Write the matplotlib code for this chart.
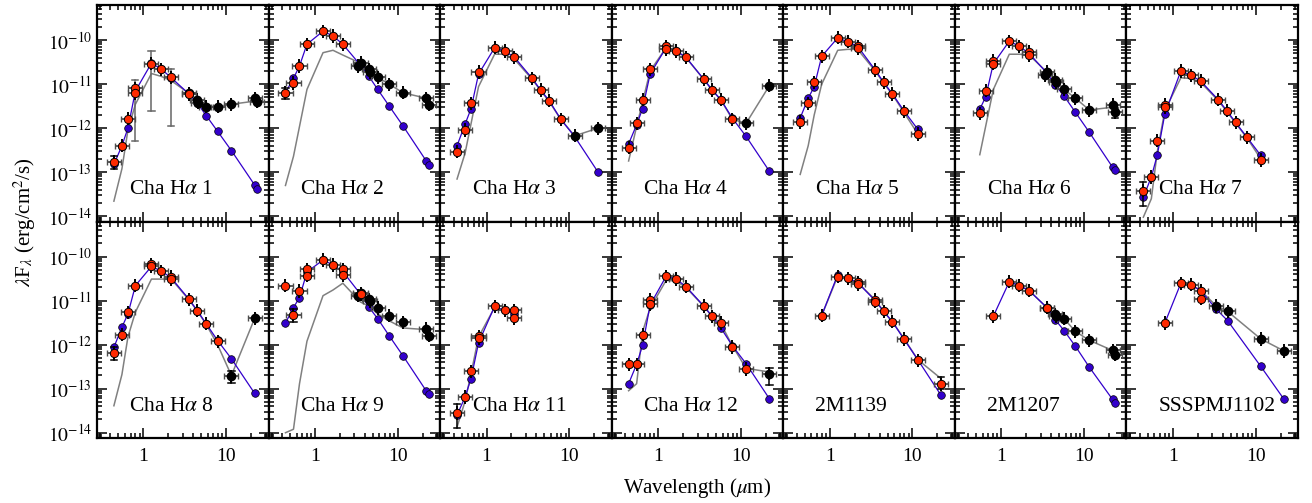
import numpy as np
import matplotlib.pyplot as plt
from matplotlib.ticker import FuncFormatter, NullFormatter, FixedLocator

plt.rcParams['font.family'] = ['Liberation Serif', 'DejaVu Serif']
plt.rcParams['mathtext.fontset'] = 'stix'

# filter wavelengths (micron)
B, V, R, I = 0.44, 0.55, 0.65, 0.80
J, H, K = 1.25, 1.65, 2.17
W1, I1, I2, W2, I3, I4 = 3.35, 3.55, 4.49, 4.60, 5.73, 7.87
W3, W4, M1 = 11.56, 22.1, 23.7

names = ['Cha H$\\alpha$ 1', 'Cha H$\\alpha$ 2', 'Cha H$\\alpha$ 3', 'Cha H$\\alpha$ 4',
         'Cha H$\\alpha$ 5', 'Cha H$\\alpha$ 6', 'Cha H$\\alpha$ 7', 'Cha H$\\alpha$ 8',
         'Cha H$\\alpha$ 9', 'Cha H$\\alpha$ 11', 'Cha H$\\alpha$ 12', '2M1139',
         '2M1207', 'SSSPMJ1102']

# photospheric model fluxes, lambda*F_lambda (erg/cm2/s)
model = [
    [(B, 1.5e-13), (V, 4.0e-13), (R, 1.0e-12), (I, 7.0e-12), (J, 3.0e-11), (H, 2.2e-11), (K, 1.4e-11),
     (I1, 6.0e-12), (I2, 3.7e-12), (I3, 1.94e-12), (I4, 8.5e-13), (W3, 3.1e-13), (W4, 5.1e-14), (M1, 4.2e-14)],
    [(B, 6.4e-12), (V, 1.36e-11), (R, 2.6e-11), (I, 8.1e-11), (J, 1.6e-10), (H, 1.25e-10), (K, 8.1e-11),
     (I1, 2.7e-11), (I2, 1.5e-11), (I3, 7.6e-12), (I4, 3.2e-12), (W3, 1.13e-12), (W4, 1.8e-13), (M1, 1.45e-13)],
    [(B, 4.0e-13), (V, 1.23e-12), (R, 2.8e-12), (I, 1.7e-11), (J, 6.7e-11), (H, 5.7e-11), (K, 4.1e-11),
     (I1, 1.36e-11), (I2, 7.4e-12), (I3, 4.2e-12), (I4, 1.6e-12), (W3, 6.5e-13), (W4, 1.02e-13)],
    [(B, 4.4e-13), (V, 1.2e-12), (R, 2.8e-12), (I, 1.7e-11), (J, 6.8e-11), (H, 5.7e-11), (K, 4.1e-11),
     (I1, 1.3e-11), (I2, 7.4e-12), (I3, 4.4e-12), (I4, 1.7e-12), (W3, 6.5e-13), (W4, 1.05e-13)],
    [(B, 1.7e-12), (V, 4.8e-12), (R, 8.8e-12), (I, 4.3e-11), (J, 1.13e-10), (H, 9.2e-11), (K, 7.3e-11),
     (I1, 2.1e-11), (I2, 1.1e-11), (I3, 6.0e-12), (I4, 2.5e-12), (W3, 9.5e-13)],
    [(V, 2.7e-12), (R, 5.2e-12), (I, 2.9e-11), (J, 9.5e-11), (H, 7.3e-11), (K, 5.0e-11),
     (I1, 1.8e-11), (I2, 9.6e-12), (I3, 5.4e-12), (I4, 2.3e-12), (W3, 8.1e-13), (W4, 1.3e-13), (M1, 1.1e-13)],
    [(B, 2.7e-14), (V, 7.8e-14), (R, 2.5e-13), (I, 2.1e-12), (J, 2.0e-11), (H, 1.6e-11), (K, 1.18e-11),
     (I1, 4.4e-12), (I2, 2.5e-12), (I3, 1.35e-12), (I4, 6.2e-13), (W3, 2.4e-13)],
    [(B, 8.7e-13), (V, 2.5e-12), (R, 5.0e-12), (I, 2.2e-11), (J, 6.0e-11), (H, 4.7e-11), (K, 3.3e-11),
     (I1, 1.08e-11), (I2, 5.9e-12), (I3, 3.0e-12), (I4, 1.25e-12), (W3, 4.8e-13), (W4, 7.8e-14)],
    [(B, 3.1e-12), (V, 7.0e-12), (R, 1.18e-11), (I, 4.5e-11), (J, 8.4e-11), (H, 6.5e-11), (K, 4.6e-11),
     (I1, 1.4e-11), (I2, 7.1e-12), (I3, 3.9e-12), (I4, 1.6e-12), (W3, 5.6e-13), (W4, 8.9e-14), (M1, 7.4e-14)],
    [(B, 2.5e-14), (V, 6.5e-14), (R, 1.7e-13), (I, 1.1e-12), (J, 7.4e-12), (H, 6.0e-12), (K, 5.0e-12)],
    [(B, 1.3e-13), (V, 3.6e-13), (R, 9.8e-13), (I, 8.0e-12), (J, 3.6e-11), (H, 3.1e-11), (K, 2.1e-11),
     (I1, 7.6e-12), (I2, 4.4e-12), (I3, 2.4e-12), (I4, 9.5e-13), (W3, 3.7e-13), (W4, 5.9e-14)],
    [(I, 4.6e-12), (J, 3.9e-11), (H, 3.2e-11), (K, 2.6e-11), (I1, 1.0e-11), (I2, 5.7e-12), (I3, 3.3e-12),
     (I4, 1.35e-12), (W3, 4.6e-13), (W4, 7.1e-14)],
    [(I, 4.4e-12), (J, 2.7e-11), (H, 2.2e-11), (K, 1.7e-11), (I1, 7.0e-12), (I2, 3.7e-12), (I3, 2.1e-12),
     (I4, 9.2e-13), (W3, 3.1e-13), (W4, 5.7e-14), (M1, 4.7e-14)],
    [(I, 3.1e-12), (J, 2.5e-11), (H, 2.3e-11), (K, 1.7e-11), (W1, 6.4e-12), (W2, 3.5e-12), (W3, 3.2e-13),
     (W4, 5.7e-14)],
]

# dereddened optical / near-IR photometry
dered = [
    [(B, 1.7e-13), (V, 4.0e-13), (R, 1.66e-12), (I, 8.1e-12), (I, 6.2e-12), (J, 2.95e-11), (H, 2.2e-11),
     (K, 1.44e-11), (I1, 6.0e-12)],
    [(B, 6.4e-12), (V, 1.07e-11), (R, 2.6e-11), (I, 8.1e-11), (J, 1.6e-10), (H, 1.25e-10), (K, 8.1e-11)],
    [(B, 2.9e-13), (V, 9.1e-13), (R, 3.7e-12), (I, 1.9e-11), (J, 6.7e-11), (H, 5.7e-11), (K, 4.1e-11),
     (I1, 1.36e-11), (I2, 7.4e-12), (I3, 4.2e-12), (I4, 1.6e-12)],
    [(B, 3.6e-13), (V, 1.3e-12), (R, 4.4e-12), (I, 2.2e-11), (J, 7.3e-11), (J, 6.2e-11), (H, 5.7e-11),
     (K, 4.1e-11), (I1, 1.3e-11), (I2, 7.4e-12), (I3, 4.4e-12), (I4, 1.6e-12)],
    [(B, 1.38e-12), (V, 3.7e-12), (R, 1.1e-11), (I, 4.3e-11), (J, 1.13e-10), (H, 9.2e-11), (K, 7.3e-11),
     (K, 6.6e-11), (I1, 2.1e-11), (I2, 1.1e-11), (I3, 6.0e-12), (I4, 2.4e-12), (W3, 7.4e-13)],
    [(V, 2.2e-12), (R, 7.1e-12), (I, 3.4e-11), (I, 2.9e-11), (J, 9.5e-11), (H, 7.3e-11), (K, 5.5e-11),
     (K, 4.6e-11)],
    [(B, 3.8e-14), (V, 7.8e-14), (R, 5.2e-13), (I, 3.4e-12), (I, 3.0e-12), (J, 2.0e-11), (H, 1.6e-11),
     (K, 1.18e-11), (I1, 4.4e-12), (I2, 2.5e-12), (I3, 1.35e-12), (I4, 6.2e-13), (W3, 1.9e-13)],
    [(B, 6.5e-13), (V, 1.7e-12), (R, 5.5e-12), (I, 2.2e-11), (J, 6.7e-11), (J, 6.0e-11), (H, 4.7e-11),
     (K, 3.5e-11), (K, 3.1e-11), (I1, 1.08e-11), (I2, 5.9e-12), (I3, 3.0e-12), (I4, 1.2e-12)],
    [(B, 2.2e-11), (V, 4.8e-12), (R, 1.67e-11), (I, 5.2e-11), (I, 3.7e-11), (J, 8.4e-11), (H, 6.5e-11),
     (K, 5.2e-11), (K, 3.8e-11), (I1, 1.4e-11)],
    [(B, 2.8e-14), (V, 6.5e-14), (R, 2.5e-13), (I, 1.55e-12), (I, 1.4e-12), (J, 7.4e-12), (H, 6.0e-12),
     (K, 6.0e-12), (K, 4.0e-12)],
    [(B, 3.6e-13), (V, 3.6e-13), (R, 1.7e-12), (I, 1.05e-11), (I, 8.3e-12), (J, 3.6e-11), (H, 3.1e-11),
     (K, 2.1e-11), (I1, 7.6e-12), (I2, 4.4e-12), (I3, 3.1e-12), (I4, 8.9e-13), (W3, 2.8e-13)],
    [(I, 4.6e-12), (J, 3.5e-11), (H, 3.2e-11), (K, 2.6e-11), (K, 2.4e-11), (I1, 1.05e-11), (I1, 9.5e-12),
     (I2, 5.7e-12), (I3, 3.3e-12), (I4, 1.35e-12), (W3, 4.4e-13), (W4, 1.26e-13)],
    [(I, 4.4e-12), (J, 2.7e-11), (H, 2.2e-11), (K, 1.7e-11), (I1, 7.0e-12)],
    [(I, 3.1e-12), (J, 2.5e-11), (H, 2.3e-11), (K, 1.7e-11), (K, 1.1e-11)],
]

# mid-IR photometry (IRAC / WISE / MIPS)
midir = [
    [(I1, 6.2e-12), (I2, 4.4e-12), (W2, 3.8e-12), (I3, 3.1e-12), (I4, 3.1e-12), (W3, 3.5e-12),
     (W4, 4.8e-12), (M1, 4.0e-12)],
    [(W1, 2.6e-11), (I1, 3.1e-11), (I2, 2.2e-11), (W2, 1.9e-11), (I3, 1.44e-11), (I4, 1.0e-11),
     (W3, 6.4e-12), (W4, 4.8e-12), (M1, 3.4e-12)],
    [(W3, 6.7e-13), (W4, 1.0e-12)],
    [(W3, 1.3e-12), (W4, 9.3e-12)],
    [],
    [(W1, 1.6e-11), (I1, 1.9e-11), (I2, 1.25e-11), (W2, 1.1e-11), (I3, 7.6e-12), (I4, 4.8e-12),
     (W3, 2.6e-12), (W4, 3.4e-12), (M1, 2.3e-12)],
    [],
    [(W3, 1.9e-13), (W4, 4.0e-12)],
    [(W1, 1.3e-11), (I1, 1.48e-11), (I2, 1.08e-11), (W2, 9.6e-12), (I3, 6.8e-12), (I4, 4.6e-12),
     (W3, 3.2e-12), (W4, 2.3e-12), (M1, 1.6e-12)],
    [],
    [(W4, 2.2e-13)],
    [],
    [(I1, 6.9e-12), (I2, 4.9e-12), (W2, 4.4e-12), (I3, 3.9e-12), (I4, 2.0e-12), (W3, 1.26e-12),
     (W4, 7.4e-13), (M1, 5.9e-13)],
    [(W1, 7.6e-12), (W2, 5.7e-12), (W3, 1.35e-12), (W4, 7.2e-13)],
]

# observed (not dereddened) SED
observed = [
    [(B, 2.2e-14), (V, 1.2e-13), (R, 9e-13), (I, 3.5e-12), (J, 1.75e-11), (H, 1.5e-11), (K, 1.2e-11),
     (I1, 6.2e-12), (I2, 4.4e-12), (I3, 3.1e-12), (I4, 3.1e-12), (W3, 3.5e-12), (M1, 4.2e-12)],
    [(B, 5e-14), (V, 2.3e-13), (I, 7.6e-12), (J, 5.2e-11), (H, 5.9e-11), (K, 4.6e-11), (I1, 3.0e-11),
     (I2, 2.1e-11), (I3, 1.44e-11), (I4, 1.0e-11), (W3, 6.4e-12), (W4, 4.8e-12)],
    [(B, 7e-14), (V, 2.7e-13), (I, 8.8e-12), (J, 4.8e-11), (H, 4.8e-11), (K, 3.7e-11), (I1, 1.3e-11),
     (I2, 7.2e-12), (I3, 4.0e-12), (I4, 1.6e-12), (W3, 6.7e-13), (W4, 1.0e-12)],
    [(B, 1.8e-13), (V, 1.1e-12), (R, 4.0e-12), (I, 2.0e-11), (J, 6.8e-11), (H, 5.7e-11), (K, 4.0e-11),
     (I1, 1.3e-11), (I2, 7.4e-12), (I3, 4.4e-12), (I4, 1.6e-12), (W3, 1.3e-12), (W4, 9.3e-12)],
    [(B, 8.9e-14), (V, 4.0e-13), (R, 2.0e-12), (I, 1.0e-11), (J, 5.9e-11), (H, 6.2e-11), (K, 6.2e-11),
     (I1, 2.0e-11), (I2, 1.05e-11), (I3, 5.8e-12), (I4, 2.3e-12), (W3, 7.5e-13)],
    [(V, 2.5e-13), (I, 7.5e-12), (J, 4.8e-11), (H, 4.8e-11), (K, 4.6e-11), (I1, 1.9e-11), (I2, 1.25e-11),
     (I3, 7.6e-12), (I4, 4.8e-12), (W3, 2.6e-12), (W4, 3.0e-12)],
    [(B, 9.5e-15), (V, 2.5e-14), (R, 3e-13), (I, 2.5e-12), (J, 1.4e-11), (H, 1.35e-11), (K, 1.1e-11),
     (I1, 4.2e-12), (I2, 2.4e-12), (I3, 1.3e-12), (I4, 6.0e-13), (W3, 2.0e-13)],
    [(B, 4.1e-14), (V, 2.1e-13), (R, 1.5e-12), (I, 5.5e-12), (J, 3.1e-11), (H, 3.1e-11), (K, 3.1e-11),
     (I1, 1.05e-11), (I2, 5.8e-12), (I3, 2.9e-12), (I4, 1.0e-12), (W3, 2.0e-13), (W4, 4.0e-12)],
    [(B, 1.0e-14), (V, 1.2e-14), (R, 1.3e-13), (I, 1.2e-12), (J, 1.3e-11), (H, 1.75e-11), (K, 2.5e-11),
     (I1, 9.3e-12), (I2, 7.5e-12), (I3, 5.0e-12), (I4, 3.5e-12), (W3, 2.4e-12), (W4, 2.2e-12)],
    [(B, 1.35e-14), (V, 5.2e-14), (R, 2.2e-13), (I, 1.5e-12), (J, 7.0e-12), (H, 6.0e-12), (K, 5.5e-12)],
    [(B, 9e-14), (V, 1.3e-13), (R, 2.0e-12), (I, 6.8e-12), (J, 2.9e-11), (H, 2.8e-11), (K, 2.0e-11),
     (I1, 7.5e-12), (I2, 4.4e-12), (I3, 3.0e-12), (I4, 9.5e-13), (W3, 2.9e-13), (W4, 2.4e-13)],
    [(I, 4.6e-12), (J, 3.6e-11), (H, 3.2e-11), (K, 2.6e-11), (I1, 1.05e-11), (I2, 5.7e-12), (I3, 3.3e-12),
     (I4, 1.4e-12), (W3, 4.6e-13), (W4, 1.7e-13)],
    [(J, 2.7e-11), (H, 2.2e-11), (K, 1.7e-11), (I1, 7.0e-12), (I2, 4.9e-12), (I3, 3.9e-12), (I4, 2.0e-12),
     (W3, 1.26e-12), (W4, 7.4e-13), (M1, 6.5e-13)],
    [(J, 2.5e-11), (H, 2.3e-11), (K, 1.7e-11), (W1, 7.6e-12), (W2, 5.7e-12), (W3, 1.35e-12), (W4, 7.2e-13)],
]

# large uncertainties: (panel, wavelength, low, high, colour)
big_err = [
    (0, B, 1.2e-13, 2.3e-13, 'k'), (0, I, 5.1e-13, 1.25e-11, '0.4'), (0, J, 2.4e-12, 5.6e-11, '0.4'),
    (0, K, 1.1e-12, 2.2e-11, '0.4'), (1, B, 4.6e-12, 8.0e-12, 'k'), (5, M1, 1.75e-12, 2.9e-12, 'k'),
    (6, B, 1.7e-14, 6.0e-14, 'k'), (7, B, 4.4e-13, 9.0e-13, 'k'), (7, W3, 1.35e-13, 2.5e-13, 'k'),
    (8, V, 3.2e-12, 6.5e-12, 'k'), (9, B, 1.3e-14, 4.6e-14, 'k'), (10, W4, 1.2e-13, 2.9e-13, 'k'),
    (11, W4, 1.0e-13, 1.8e-13, 'k'),
]

flux_ticks = [1e-14, 1e-13, 1e-12, 1e-11, 1e-10]
flux_minor = [m * t for t in [1e-15] + flux_ticks for m in range(2, 10)]
wave_ticks = [1, 10]
wave_minor = [m * t for t in [0.1, 1, 10] for m in range(2, 10)]

YERR_DEX = 0.15   # half-length of the vertical bar of each photometric cross
XERR_DEX = 0.085  # half-width of the filter bar

BLUE = '#3300cc'
RED = '#ff2a00'


def crosses(ax, pts):
    wl = np.array([p[0] for p in pts])
    fl = np.array([p[1] for p in pts])
    fy, fx = 10 ** YERR_DEX, 10 ** XERR_DEX
    ax.errorbar(wl, fl, xerr=[wl - wl / fx, wl * fx - wl], fmt='none', ecolor='0.3',
                elinewidth=1.3, capsize=2.5, capthick=1.0, zorder=3)
    ax.errorbar(wl, fl, yerr=[fl - fl / fy, fl * fy - fl], fmt='none', ecolor='k',
                elinewidth=1.4, capsize=0, zorder=3)
    return wl, fl


fig, axes = plt.subplots(2, 7, figsize=(13.12, 5.03), dpi=100, sharex=True, sharey=True)
fig.subplots_adjust(left=97 / 1312, right=1298 / 1312, top=1 - 5 / 503, bottom=1 - 438 / 503,
                    wspace=0, hspace=0)

for n, ax in enumerate(axes.flat):
    ax.set_xscale('log')
    ax.set_yscale('log')

    obs = observed[n]
    ax.plot([p[0] for p in obs], [p[1] for p in obs], color='0.5', lw=1.1, zorder=1)

    mod = model[n]
    ax.plot([p[0] for p in mod], [p[1] for p in mod], color=BLUE, lw=0.9, zorder=2)
    ax.plot([p[0] for p in mod], [p[1] for p in mod], 'o', ms=5.5, mfc=BLUE, mec='k', mew=0.5,
            ls='none', zorder=2)

    for (pn, wl, lo, hi, col) in big_err:
        if pn == n:
            ax.plot([wl, wl], [lo, hi], color=col, lw=1.1, zorder=3)
            for v in (lo, hi):
                ax.plot([wl / 1.09, wl * 1.09], [v, v], color=col, lw=1.1, zorder=3)

    if midir[n]:
        wl, fl = crosses(ax, midir[n])
        ax.plot(wl, fl, 'o', ms=6, mfc='k', mec='k', ls='none', zorder=4)

    wl, fl = crosses(ax, dered[n])
    ax.plot(wl, fl, 'o', ms=6, mfc=RED, mec='k', mew=0.7, ls='none', zorder=5)

    ax.text(0.185, 0.125, names[n], transform=ax.transAxes, fontsize=15.5, va='baseline')

    ax.set_xlim(0.275, 32.5)
    ax.set_ylim(10 ** -14.12, 10 ** -9.2)
    ax.yaxis.set_major_locator(FixedLocator(flux_ticks))
    ax.yaxis.set_minor_locator(FixedLocator(flux_minor))
    ax.xaxis.set_major_locator(FixedLocator(wave_ticks))
    ax.xaxis.set_minor_locator(FixedLocator(wave_minor))
    ax.xaxis.set_major_formatter(FuncFormatter(lambda v, pos: '%g' % v))
    ax.yaxis.set_major_formatter(FuncFormatter(lambda v, pos: '$10^{%d}$' % round(np.log10(v))))
    ax.xaxis.set_minor_formatter(NullFormatter())
    ax.yaxis.set_minor_formatter(NullFormatter())
    ax.tick_params(which='both', direction='in', top=True, right=True, labelsize=14, width=1.1)
    ax.tick_params(which='major', length=7)
    ax.tick_params(which='minor', length=3.5)
    ax.tick_params(axis='x', pad=7)
    for sp in ax.spines.values():
        sp.set_linewidth(1.6)

fig.text((97 + 1298) / 2 / 1312, 1 - 488 / 503, 'Wavelength ($\\mu$m)', ha='center', va='center',
         fontsize=15)
fig.text(25 / 1312, 1 - 222 / 503, '$\\lambda$F$_\\lambda$ (erg/cm$^2$/s)', rotation=90,
         ha='center', va='center', fontsize=15)

fig.savefig('out.png', dpi=100)
